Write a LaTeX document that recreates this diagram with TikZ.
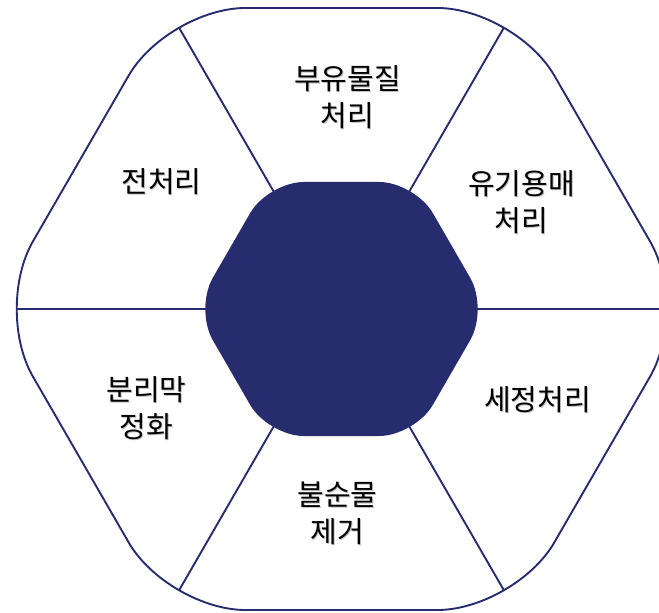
\documentclass[tikz,border=0pt]{standalone}
\usepackage{fontspec}
\newfontfamily\kr{Noto Sans CJK KR}
\definecolor{navy}{HTML}{262C6E}
\begin{document}
\begin{tikzpicture}[x=1pt,y=1pt,
  sep/.style={draw=navy, line width=1.9pt},
  lbl/.style={font=\kr\fontsize{29}{37}\selectfont, align=center, text=black, inner sep=0pt},
  shd/.style={lbl, text=black!25}]
\useasboundingbox (0,0) rectangle (659,613);
\clip (0,0) rectangle (659,613);
\coordinate (C) at (341.5,304);
\foreach \i in {0,...,5} {
  \coordinate (o\i) at ([shift={(\i*60:347.6)}]C);
  \coordinate (n\i) at ([shift={(\i*60:146.7)}]C);
}
\coordinate (ostart) at ([shift={(90:301)}]C);
\coordinate (nstart) at ([shift={(90:127)}]C);
% separators clipped to the outer rounded hexagon
\begin{scope}
  \clip[rounded corners=78pt] (ostart) -- (o2) -- (o3) -- (o4) -- (o5) -- (o0) -- (o1) -- cycle;
  \foreach \i in {0,...,5} \draw[sep] (C) -- (o\i);
\end{scope}
% outer rounded hexagon
\draw[sep, rounded corners=78pt] (ostart) -- (o2) -- (o3) -- (o4) -- (o5) -- (o0) -- (o1) -- cycle;
% inner filled hexagon
\fill[navy, rounded corners=36pt] (nstart) -- (n2) -- (n3) -- (n4) -- (n5) -- (n0) -- (n1) -- cycle;
% labels
\node[shd] at (348.5,514.5) {부유물질\\처리};
\node[lbl] (a) at (347.5,515.5) {부유물질\\처리};
\node[shd] at (162.5,430) {전처리};
\node[lbl] (b) at (161.5,431) {전처리};
\node[shd] at (522.5,409.5) {유기용매\\처리};
\node[lbl] (c) at (521.5,410.5) {유기용매\\처리};
\node[shd] at (147.5,204) {분리막\\정화};
\node[lbl] (d) at (146.5,205) {분리막\\정화};
\node[shd] at (538.5,212) {세정처리};
\node[lbl] (e) at (537.5,213) {세정처리};
\node[shd] at (338.5,99) {불순물\\제거};
\node[lbl] (f) at (337.5,100) {불순물\\제거};
\end{tikzpicture}
\end{document}
